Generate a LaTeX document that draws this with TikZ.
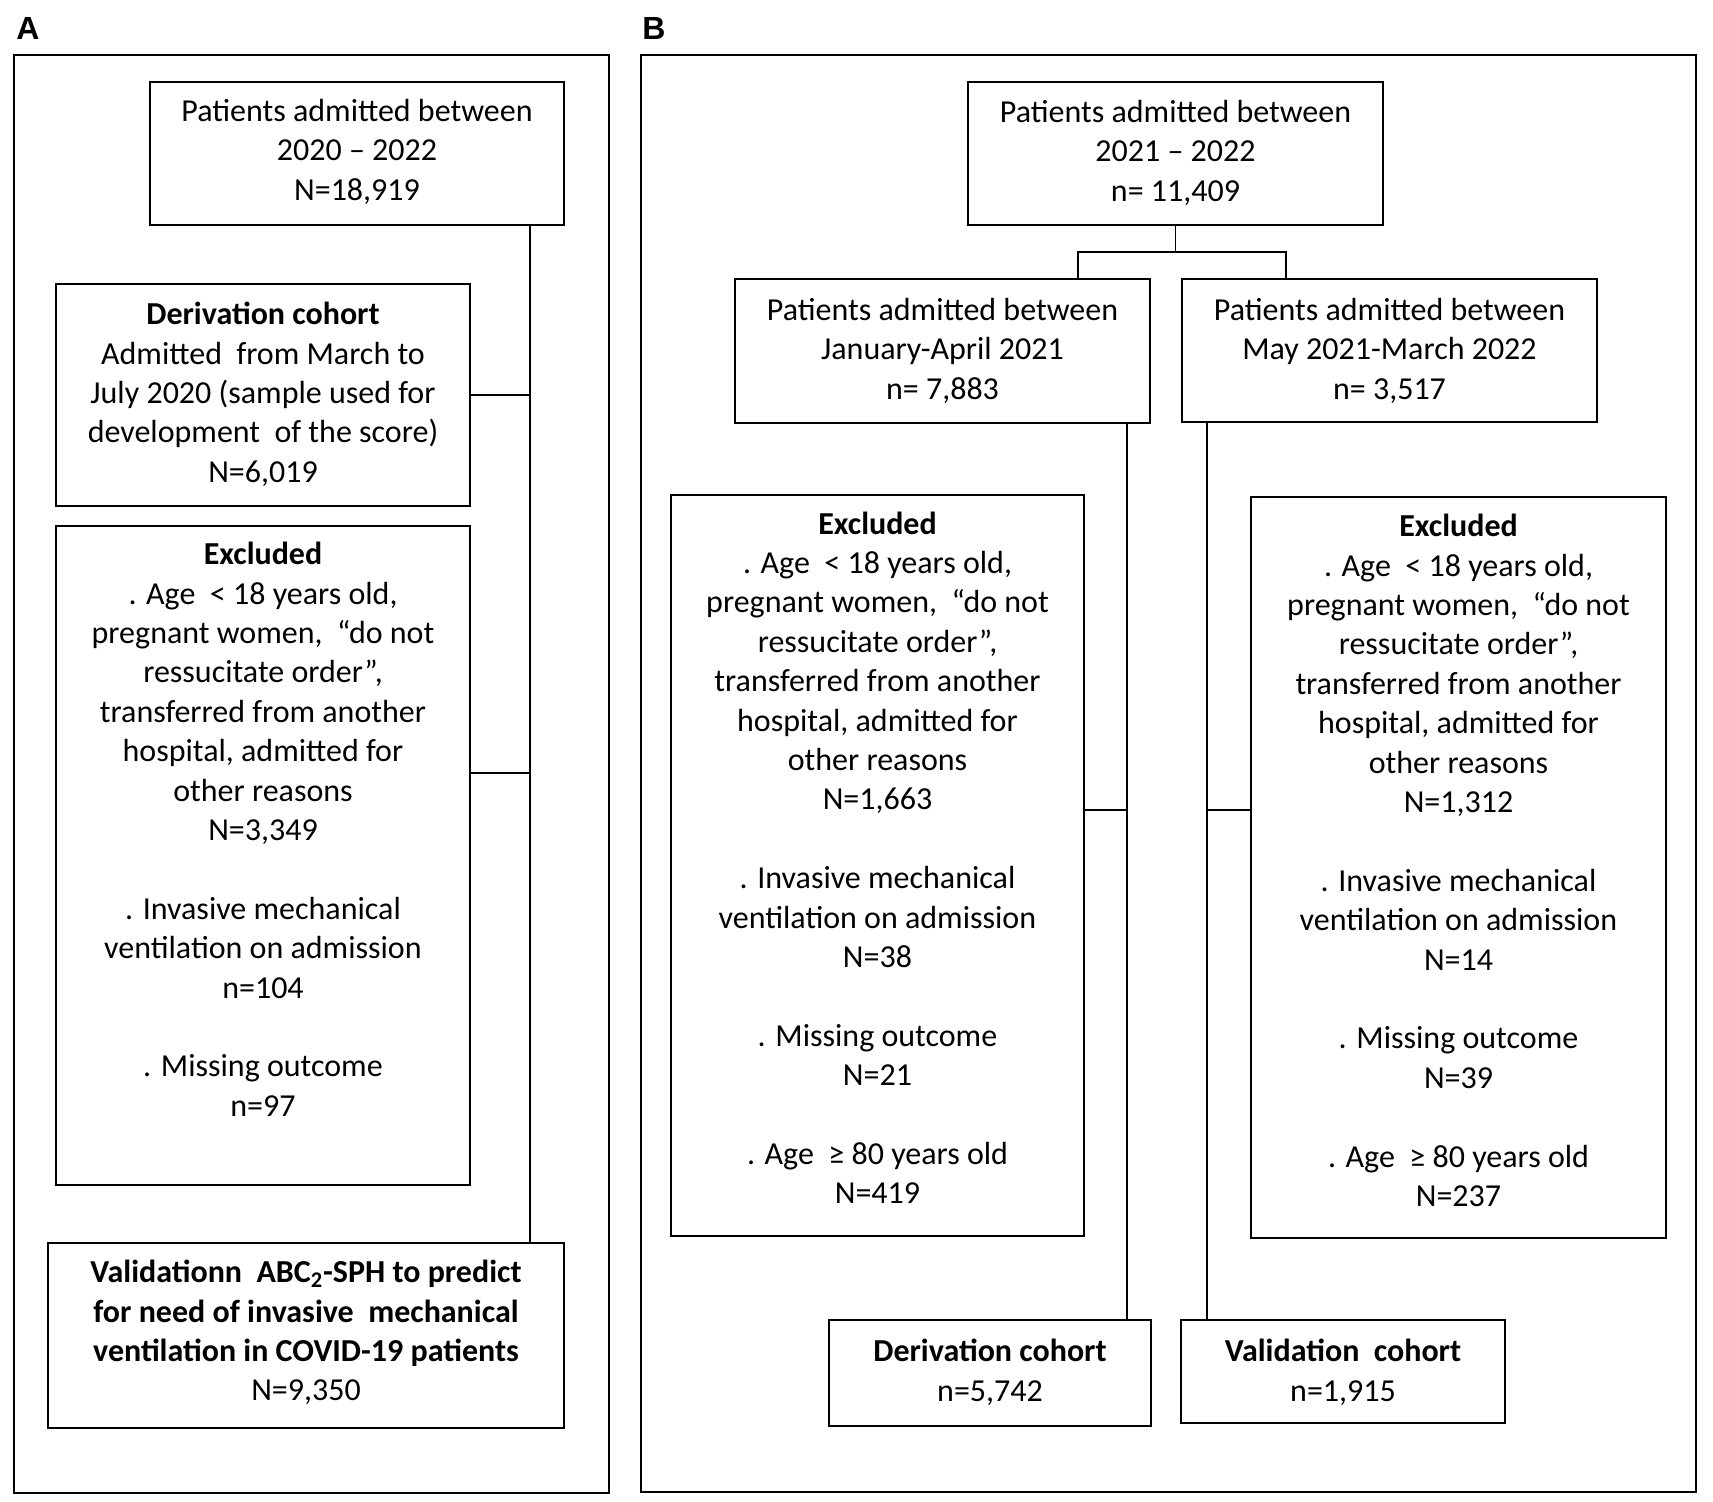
\documentclass[tikz,border=0pt]{standalone}
\usepackage{fontspec}
\setmainfont{Carlito}
\newfontfamily\labelfont{Liberation Sans}
\usetikzlibrary{fit,calc}
\begin{document}
\begin{tikzpicture}[x=0.5pt,y=-0.5pt,
  box/.style={draw, line width=1.2pt, inner sep=0pt},
  panel/.style={draw, line width=1.2pt, inner sep=0pt},
  link/.style={line width=0.9pt},
  txt/.style={align=center, anchor=north, inner sep=0pt, font=\fontsize{16}{19.7}\selectfont},
  plabel/.style={font=\labelfont\bfseries\fontsize{16}{16}\selectfont, inner sep=0pt},
]
\useasboundingbox (0,0) rectangle (1713,1502);

% panels
\node[panel, fit={(14,55) (609,1493)}] (panelA) {};
\node[panel, fit={(641,55) (1696,1492)}] (panelB) {};
\node[plabel] (labA) at (28,29) {A};
\node[plabel] (labB) at (654,29) {B};

% ---------- Panel A ----------
\node[box, fit={(150,82) (564,225)}] (a1) {};
\node[txt] (a1t) at ([yshift=-9pt]a1.north) {Patients admitted between\\2020 -- 2022\\N=18,919};

\node[box, fit={(56,284) (470,506)}] (aDer) {};
\node[txt] (aDert) at ([yshift=-9.5pt]aDer.north) {\textbf{Derivation cohort}\\Admitted\ \ from March to\\July 2020 (sample used for\\development\ \ of the score)\\N=6,019};

\node[box, fit={(56,526) (470,1185)}] (aExc) {};
\node[txt] (aExct) at ([yshift=-8.5pt]aExc.north) {\textbf{Excluded}\\. Age\ \ {<} 18 years old,\\pregnant women,\ \ “do not\\ressucitate order”,\\transferred from another\\hospital, admitted for\\other reasons\\N=3,349\\[19.7pt]. Invasive mechanical\\ventilation on admission\\n=104\\[19.7pt]. Missing outcome\\n=97};

\node[box, fit={(48,1243) (564,1428)}] (aVal) {};
\node[txt] (aValt) at ([yshift=-9pt]aVal.north) {\textbf{Validationn\ \ ABC\textsubscript{2}-SPH to predict}\\\textbf{for need of invasive\ \ mechanical}\\\textbf{ventilation in COVID-19 patients}\\N=9,350};

\coordinate (sA) at (530,0);
\draw[link] (a1.south -| sA) -- (aVal.north -| sA);
\draw[link] (aDer.east) -- (aDer.east -| sA);
\coordinate (aExcOut) at ([yshift=41.25pt]aExc.east);
\draw[link] (aExcOut) -- (aExcOut -| sA);

% ---------- Panel B ----------
\node[box, fit={(968,82) (1383,225)}] (b1) {};
\node[txt] (b1t) at ([yshift=-9.5pt]b1.north) {Patients admitted between\\2021 -- 2022\\n= 11,409};

\node[box, fit={(735,279) (1150,423)}] (bL) {};
\node[txt] (bLt) at ([yshift=-10pt]bL.north) {Patients admitted between\\January-April 2021\\n= 7,883};

\node[box, fit={(1182,279) (1597,422)}] (bR) {};
\node[txt] (bRt) at ([yshift=-10pt]bR.north) {Patients admitted between\\May 2021-March 2022\\n= 3,517};

\coordinate (armL) at (1078,252);
\coordinate (armR) at (1286,252);
\draw[link] (b1.south) -- (b1.south |- armL);
\draw[link] (bL.north -| armL) -- (armL) -- (armR) -- (bR.north -| armR);

\node[box, fit={(671,495) (1084,1236)}] (bLE) {};
\node[txt] (bLEt) at ([yshift=-8.75pt]bLE.north) {\textbf{Excluded}\\. Age\ \ {<} 18 years old,\\pregnant women,\ \ “do not\\ressucitate order”,\\transferred from another\\hospital, admitted for\\other reasons\\N=1,663\\[19.7pt]. Invasive mechanical\\ventilation on admission\\N=38\\[19.7pt]. Missing outcome\\N=21\\[19.7pt]. Age\ \ ≥ 80 years old\\N=419};

\node[box, fit={(1251,497) (1666,1238)}] (bRE) {};
\node[txt] (bREt) at ([yshift=-9pt]bRE.north) {\textbf{Excluded}\\. Age\ \ {<} 18 years old,\\pregnant women,\ \ “do not\\ressucitate order”,\\transferred from another\\hospital, admitted for\\other reasons\\N=1,312\\[19.7pt]. Invasive mechanical\\ventilation on admission\\N=14\\[19.7pt]. Missing outcome\\N=39\\[19.7pt]. Age\ \ ≥ 80 years old\\N=237};

\node[box, fit={(829,1320) (1151,1426)}] (bDer) {};
\node[txt] (bDert) at ([yshift=-10pt]bDer.north) {\textbf{Derivation cohort}\\n=5,742};

\node[box, fit={(1181,1320) (1505,1423)}] (bVal) {};
\node[txt] (bValt) at ([yshift=-10pt]bVal.north) {\textbf{Validation\ \ cohort}\\n=1,915};

\coordinate (sL) at (1127,0);
\coordinate (sR) at (1207,0);
\draw[link] (bL.south -| sL) -- (bDer.north -| sL);
\draw[link] (bR.south -| sR) -- (bVal.north -| sR);
\coordinate (bLEout) at ([yshift=27.75pt]bLE.east);
\draw[link] (bLEout) -- (bLEout -| sL);
\coordinate (bREout) at ([yshift=28.75pt]bRE.west);
\draw[link] (bREout) -- (bREout -| sR);
\end{tikzpicture}
\end{document}
